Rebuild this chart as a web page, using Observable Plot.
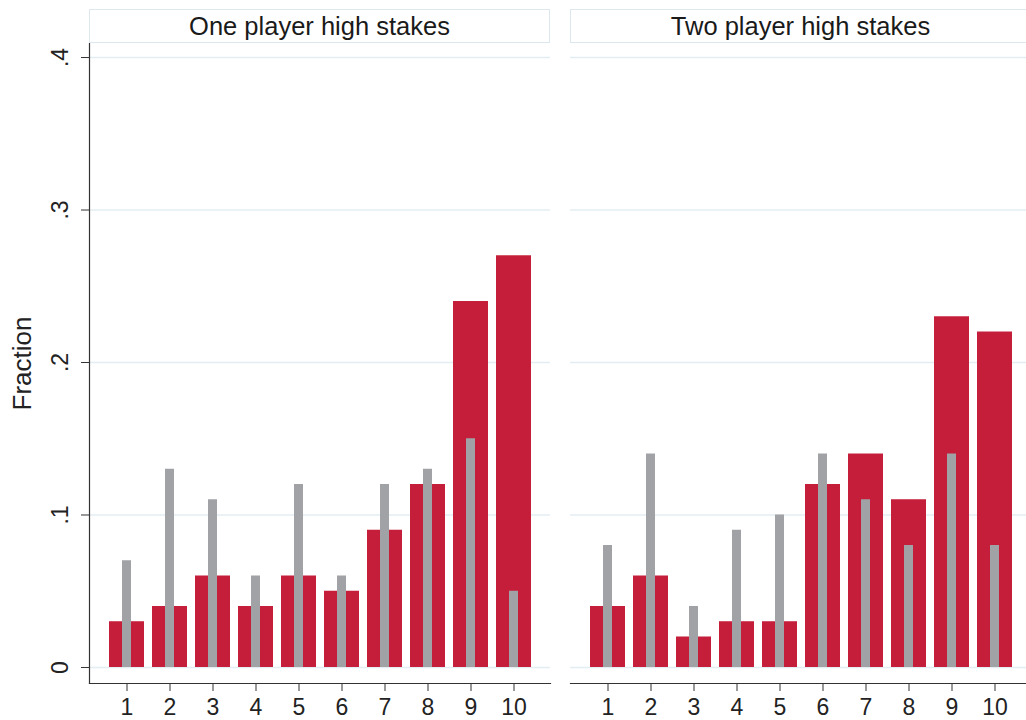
<!DOCTYPE html>
<html><head><meta charset="utf-8">
<script src="https://cdn.jsdelivr.net/npm/d3@7"></script>
<script src="https://cdn.jsdelivr.net/npm/@observablehq/plot@0.6"></script>
<style>
html,body{margin:0;padding:0;background:#fff;overflow:hidden;}
#wrap{position:relative;width:1026px;height:720px;overflow:hidden;font-family:"Liberation Sans",Arial,Helvetica,sans-serif;}
.hdr{position:absolute;top:9px;height:34px;width:461px;box-sizing:border-box;border:1.5px solid #dce8ee;display:flex;align-items:center;justify-content:center;font-size:25.5px;color:#1a1a1a;background:#fff;}
.panel{position:absolute;top:0;}
</style></head>
<body><div id="wrap"></div>
<script>
const bins = [1, 2, 3, 4, 5, 6, 7, 8, 9, 10];
const panelTitles = ["One player high stakes", "Two player high stakes"];
const redOne  = [0.03, 0.04, 0.06, 0.04, 0.06, 0.05, 0.09, 0.12, 0.24, 0.27];
const grayOne = [0.07, 0.13, 0.11, 0.06, 0.12, 0.06, 0.12, 0.13, 0.15, 0.05];
const redTwo  = [0.04, 0.06, 0.02, 0.03, 0.03, 0.12, 0.14, 0.11, 0.23, 0.22];
const grayTwo = [0.08, 0.14, 0.04, 0.09, 0.10, 0.14, 0.11, 0.08, 0.14, 0.08];
const yTicks = [0, 0.1, 0.2, 0.3, 0.4];
const yDomain = [-0.0105, 0.4092];
const yLabel = "Fraction";

const RED = "#c41e3a", GRAY = "#a1a2a6", GRID = "#e4eef2", INK = "#333333";
const fmt = d => d === 0 ? "0" : d3.format(".1f")(d).replace(/^0/, "");

function panel(title, red, gray, left) {
  const data = bins.map((b, i) => ({bin: b, red: red[i], gray: gray[i]}));
  const marks = [
    Plot.gridY(yTicks, {stroke: GRID, strokeOpacity: 1, strokeWidth: 1.5}),
    Plot.barY(data, {x: "bin", y: "red", fill: RED}),
    Plot.barY(data, {x: "bin", y: "gray", fill: GRAY, insetLeft: 13, insetRight: 13}),
    Plot.frame({anchor: "bottom", stroke: INK, strokeWidth: 1.2}),
    Plot.axisX({tickSize: 8, tickPadding: 7, fontSize: 23, stroke: INK, color: "#222", label: null})
  ];
  if (left) {
    marks.push(
      Plot.frame({anchor: "left", stroke: INK, strokeWidth: 1.2}),
      Plot.axisY(yTicks, {tickSize: 8, tickPadding: 14, tickRotate: -90, tickFormat: fmt, fontSize: 23, stroke: INK, color: "#222", label: null}),
      Plot.text([yLabel], {frameAnchor: "left", dx: -67, rotate: -90, textAnchor: "middle", fontSize: 26, fill: "#222"})
    );
  }
  return Plot.plot({
    width: left ? 560 : 480,
    height: 720,
    marginLeft: left ? 89 : 10,
    marginRight: left ? 10 : 9,
    marginTop: 43,
    marginBottom: 37,
    style: {fontFamily: '"Liberation Sans", Arial, Helvetica, sans-serif', background: "#fff"},
    x: {type: "band", domain: bins, paddingInner: 0.19, paddingOuter: 0.418},
    y: {domain: yDomain, axis: null},
    marks
  });
}

const wrap = document.getElementById("wrap");
const specs = [
  {title: panelTitles[0], red: redOne, gray: grayOne, left: true, pos: 0, hdr: 89},
  {title: panelTitles[1], red: redTwo, gray: grayTwo, left: false, pos: 560, hdr: 570}
];
for (const s of specs) {
  const el = panel(s.title, s.red, s.gray, s.left);
  el.classList.add("panel");
  el.style.left = s.pos + "px";
  wrap.appendChild(el);
  const h = document.createElement("div");
  h.className = "hdr";
  h.style.left = s.hdr + "px";
  h.textContent = s.title;
  wrap.appendChild(h);
}
</script>
</body></html>
